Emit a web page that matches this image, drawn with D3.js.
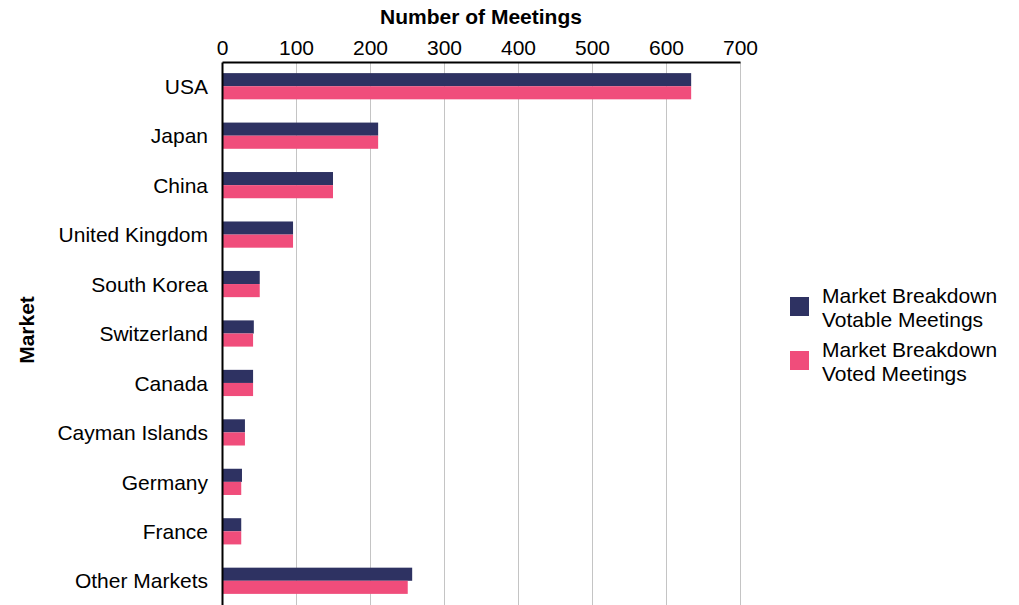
<!DOCTYPE html>
<html>
<head>
<meta charset="utf-8">
<script src="https://cdn.jsdelivr.net/npm/d3@7"></script>
<style>
  body { margin: 0; background: #fff; }
  svg { display: block; font-family: "Liberation Sans", Arial, sans-serif; }
  .grid line { stroke: #c4c4c4; stroke-width: 1; }
  .axis text { font-size: 21px; fill: #000; }
</style>
</head>
<body>
<svg id="chart" width="1019" height="605"></svg>
<script>
// ---------- Data ----------
const markets = ["USA", "Japan", "China", "United Kingdom", "South Korea", "Switzerland",
                 "Canada", "Cayman Islands", "Germany", "France", "Other Markets"];
const votable = [634, 211, 150, 96, 51, 43, 42, 31, 27, 26, 257];
const voted   = [634, 211, 150, 96, 51, 42, 42, 31, 26, 26, 251];
const xTicks  = [0, 100, 200, 300, 400, 500, 600, 700];
const seriesNames = [["Market Breakdown", "Votable Meetings"], ["Market Breakdown", "Voted Meetings"]];
const colors = ["#2e3262", "#f04d7b"];

// ---------- Layout ----------
const svg = d3.select("#chart");
const plot = { left: 222, right: 740, top: 62, bottom: 606 };

const x = d3.scaleLinear().domain([0, 700]).range([plot.left, plot.right]);
const y = d3.scaleBand().domain(markets).range([plot.top, plot.bottom]);
const barH = y.step() * 0.265;

// ---------- Grid ----------
svg.append("g").attr("class", "grid")
  .selectAll("line").data(xTicks.slice(1)).join("line")
    .attr("x1", d => x(d) + 0.5).attr("x2", d => x(d) + 0.5)
    .attr("y1", plot.top).attr("y2", plot.bottom);

// ---------- Bars ----------
const rows = markets.map((m, i) => ({ m, vals: [votable[i], voted[i]] }));
const rowG = svg.append("g").selectAll("g").data(rows).join("g")
  .attr("transform", d => `translate(0,${y(d.m) + y.bandwidth() / 2 - barH - 0.5})`);
rowG.selectAll("rect").data(d => d.vals).join("rect")
  .attr("x", x(0))
  .attr("y", (d, i) => i * barH)
  .attr("width", d => x(d) - x(0))
  .attr("height", barH)
  .attr("fill", (d, i) => colors[i]);

// ---------- Axes ----------
const topAxis = svg.append("g").attr("class", "axis")
  .attr("transform", `translate(0,${plot.top})`)
  .call(d3.axisTop(x).tickValues(xTicks).tickSize(0).tickPadding(7).tickSizeOuter(0));
topAxis.select(".domain").attr("stroke", "#000").attr("stroke-width", 2);

const leftAxis = svg.append("g").attr("class", "axis")
  .attr("transform", `translate(${plot.left},0)`)
  .call(d3.axisLeft(y).tickSize(0).tickPadding(14).tickSizeOuter(0));
leftAxis.select(".domain").attr("stroke", "#000").attr("stroke-width", 2);
leftAxis.selectAll("text").attr("dy", "0.34em");

// ---------- Titles ----------
svg.append("text")
  .attr("x", (plot.left + plot.right) / 2).attr("y", 24)
  .attr("text-anchor", "middle")
  .attr("font-size", 21).attr("font-weight", "bold")
  .text("Number of Meetings");

svg.append("text")
  .attr("transform", "translate(34,330) rotate(-90)")
  .attr("text-anchor", "middle")
  .attr("font-size", 21).attr("font-weight", "bold")
  .text("Market");

// ---------- Legend ----------
const legend = svg.append("g").attr("transform", "translate(790,297)");
const item = legend.selectAll("g").data(seriesNames).join("g")
  .attr("transform", (d, i) => `translate(0,${i * 54})`);
item.append("rect")
  .attr("width", 19).attr("height", 19)
  .attr("fill", (d, i) => colors[i]);
item.append("text")
  .attr("x", 32).attr("y", 6)
  .attr("font-size", 21)
  .selectAll("tspan").data(d => d).join("tspan")
    .attr("x", 32)
    .attr("dy", (d, i) => i === 0 ? 0 : 24)
    .text(d => d);
</script>
</body>
</html>
